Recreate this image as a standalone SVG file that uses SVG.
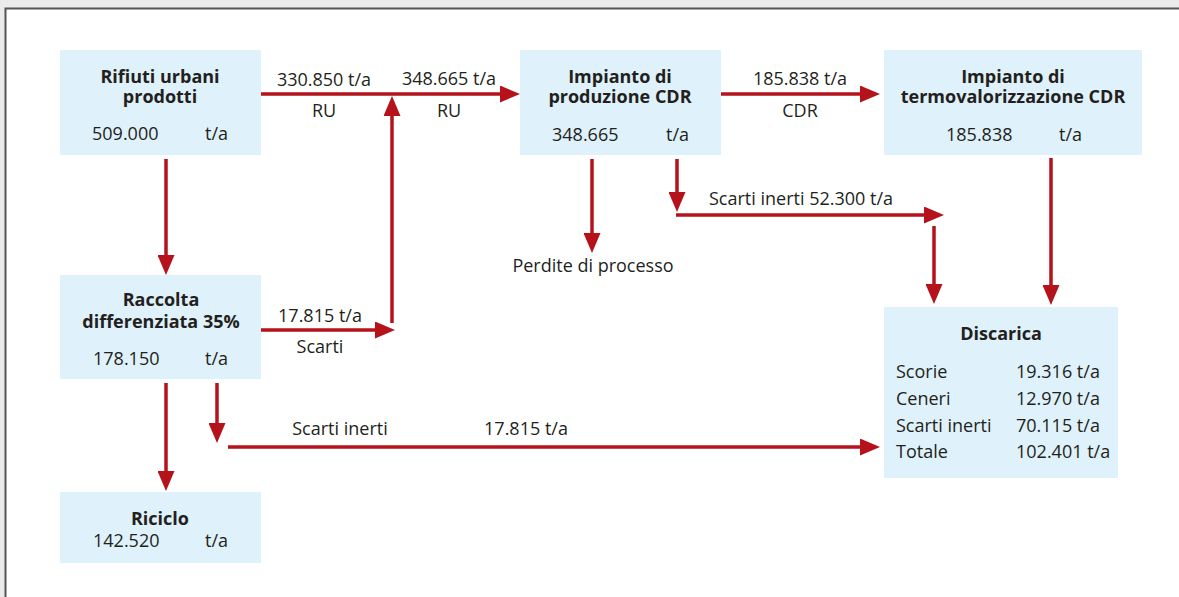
<svg xmlns="http://www.w3.org/2000/svg" width="1179" height="597" viewBox="0 0 1179 597">
<style>
.box{fill:#dff1fa}
text{font-family:"Open Sans","Liberation Sans",sans-serif;font-size:18px;fill:#231f20}
.b{font-weight:bold}
.c{text-anchor:middle}
.ln{fill:none;stroke:#b5121b;stroke-width:3.5;marker-end:url(#ah)}
.pl{fill:none;stroke:#b5121b;stroke-width:3.5}
</style>
<defs>
<marker id="ah" markerWidth="20" markerHeight="17" refX="10" refY="8.5" orient="auto" markerUnits="userSpaceOnUse">
<path d="M0,0 L20,8.5 L0,17 z" fill="#b5121b"/>
</marker>
</defs>
<rect x="0" y="0" width="1179" height="597" fill="#ebebec"/>
<rect x="5.5" y="8.5" width="1200" height="700" fill="#ffffff" stroke="#555555" stroke-width="2"/>

<g id="connectors">
<path class="ln" d="M261,94 H510"/>
<path class="ln" d="M392,323 V106"/>
<path class="ln" d="M261,330 H385"/>
<path class="ln" d="M166,159 V265"/>
<path class="ln" d="M166,383 V481"/>
<path class="ln" d="M217,383 V433"/>
<path class="ln" d="M228,447 H870"/>
<path class="ln" d="M721,94 H870"/>
<path class="ln" d="M592,159 V243"/>
<path class="ln" d="M677,159 V202"/>
<path class="ln" d="M676,215 H934"/>
<path class="ln" d="M934,226 V294"/>
<path class="ln" d="M1051,158 V295"/>
<text x="324" y="86" class="c">330.850 t/a</text>
<text x="324" y="117" class="c">RU</text>
<text x="449" y="85" class="c">348.665 t/a</text>
<text x="449" y="117" class="c">RU</text>
<text x="800" y="85" class="c">185.838 t/a</text>
<text x="800" y="117" class="c">CDR</text>
<text x="320" y="322" class="c">17.815 t/a</text>
<text x="320" y="353" class="c">Scarti</text>
<text x="340" y="435" class="c">Scarti inerti</text>
<text x="526" y="435" class="c">17.815 t/a</text>
<text x="593" y="272" class="c">Perdite di processo</text>
<text x="801" y="205" class="c">Scarti inerti  52.300 t/a</text>
</g>

<g id="rifiuti">
<rect class="box" x="60" y="50" width="201" height="105"/>
<text x="160" y="83" class="b c">Rifiuti urbani</text>
<text x="160" y="103" class="b c">prodotti</text>
<text x="92" y="140">509.000</text>
<text x="205" y="140">t/a</text>
</g>

<g id="cdr">
<rect class="box" x="520" y="50" width="201" height="105"/>
<text x="620" y="83" class="b c">Impianto di</text>
<text x="620" y="103" class="b c">produzione CDR</text>
<text x="552" y="141">348.665</text>
<text x="666" y="141">t/a</text>
</g>

<g id="termo">
<rect class="box" x="884" y="50" width="258" height="105"/>
<text x="1013" y="83" class="b c">Impianto di</text>
<text x="1013" y="103" class="b c">termovalorizzazione CDR</text>
<text x="946" y="141">185.838</text>
<text x="1059" y="141">t/a</text>
</g>

<g id="raccolta">
<rect class="box" x="60" y="275" width="201" height="104"/>
<text x="161" y="306" class="b c">Raccolta</text>
<text x="161" y="328" class="b c">differenziata 35%</text>
<text x="93" y="365">178.150</text>
<text x="205" y="365">t/a</text>
</g>

<g id="riciclo">
<rect class="box" x="60" y="492" width="201" height="71"/>
<text x="160" y="525" class="b c">Riciclo</text>
<text x="93" y="547">142.520</text>
<text x="205" y="547">t/a</text>
</g>

<g id="discarica">
<rect class="box" x="884" y="307" width="234" height="171"/>
<text x="1001" y="340" class="b c">Discarica</text>
<text x="896" y="378">Scorie</text>
<text x="1016" y="378">19.316 t/a</text>
<text x="896" y="405">Ceneri</text>
<text x="1016" y="405">12.970 t/a</text>
<text x="896" y="432">Scarti inerti</text>
<text x="1016" y="432">70.115 t/a</text>
<text x="896" y="458">Totale</text>
<text x="1016" y="458">102.401 t/a</text>
</g>
</svg>
